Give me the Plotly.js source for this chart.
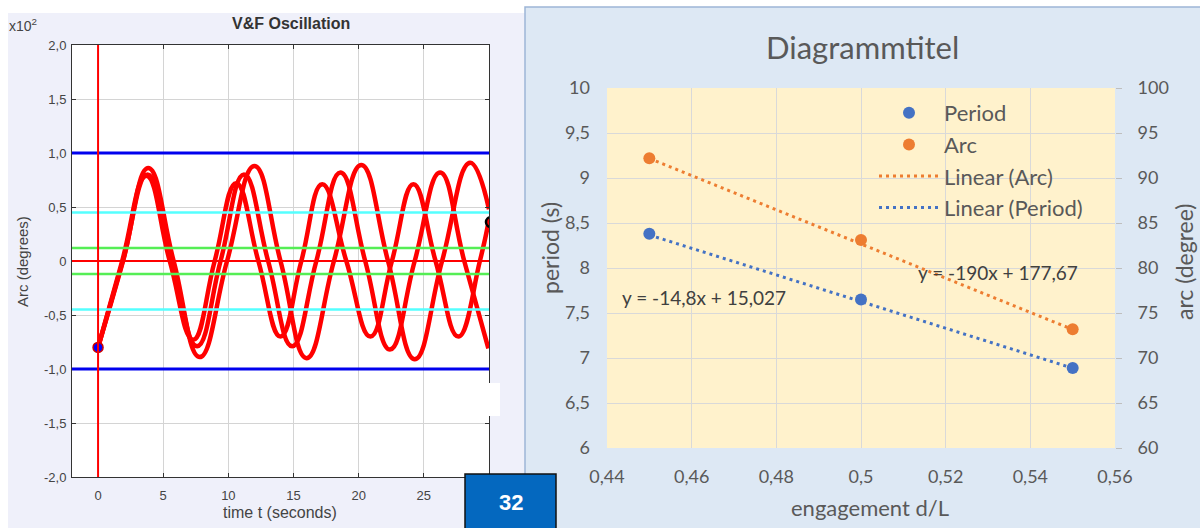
<!DOCTYPE html>
<html>
<head>
<meta charset="utf-8">
<script src="https://cdn.plot.ly/plotly-3.0.1.min.js"></script>
<style>html,body{margin:0;padding:0;background:#fff;}#chart{width:1200px;height:528px;}</style>
</head>
<body>
<div id="chart"></div>
<script>
// ---------- Left chart data (V&F Oscillation) ----------
const curve1T = [0, 1.85, 3.7, 5.5, 7.3, 8.95, 10.6, 12.3, 14.0, 15.6, 17.2, 19.05, 20.9, 22.55, 24.2, 25.9, 27.65, 29.3, 30];
const curve1Y = [-0.8, 0, 0.79, 0, -0.73, 0, 0.72, 0, -0.70, 0, 0.71, 0, -0.70, 0, 0.71, 0, -0.70, 0, 0.38];
const curve2T = [0, 1.9, 3.8, 5.7, 7.6, 9.4, 11.2, 13.05, 14.9, 16.75, 18.6, 20.5, 22.4, 24.3, 26.25, 28.1, 29.95];
const curve2Y = [-0.8, 0, 0.80, 0, -0.79, 0, 0.80, 0, -0.79, 0, 0.82, 0, -0.82, 0, 0.82, 0, -0.81];
const curve3T = [0, 1.92, 3.85, 5.8, 7.8, 9.9, 12.0, 14.0, 16.0, 18.1, 20.2, 22.25, 24.3, 26.4, 28.55, 30];
const curve3Y = [-0.8, 0, 0.86, 0, -0.89, 0, 0.88, 0, -0.90, 0, 0.89, 0, -0.91, 0, 0.91, 0.48];
const startPoint = {t: [0], y: [-0.8]};
const endPoint = {t: [30.15], y: [0.36]};
const blueLevels = [1.0, -1.0];
const cyanLevels = [0.45, -0.45];
const greenLevels = [0.12, -0.12];
const redLevels = [0];
const redTimes = [0];
const leftXTicks = [0, 5, 10, 15, 20, 25, 30];
const leftYTicks = [-2, -1.5, -1, -0.5, 0, 0.5, 1, 1.5, 2];
const leftYText = ['-2,0', '-1,5', '-1,0', '-0,5', '0', '0,5', '1,0', '1,5', '2,0'];

// ---------- Right chart data (Diagrammtitel) ----------
const engagement = [0.45, 0.5, 0.55];
const period = [8.38, 7.65, 6.89];
const arc = [92.2, 83.1, 73.2];
const trendX = [0.45, 0.55];
const periodTrend = [8.367, 6.887];
const arcTrend = [92.17, 73.17];

// ---------- helpers (pixel -> paper) ----------
const W = 1200, H = 528;
const fx = p => p / W;
const fy = p => 1 - p / H;

const redLine = {color: '#ff0000', width: 4.5, shape: 'spline', smoothing: 1.3};
const traces = [
  {x: curve1T, y: curve1Y, xaxis: 'x', yaxis: 'y', mode: 'lines', line: redLine, showlegend: false, hoverinfo: 'skip'},
  {x: curve2T, y: curve2Y, xaxis: 'x', yaxis: 'y', mode: 'lines', line: redLine, showlegend: false, hoverinfo: 'skip'},
  {x: curve3T, y: curve3Y, xaxis: 'x', yaxis: 'y', mode: 'lines', line: redLine, showlegend: false, hoverinfo: 'skip'},
  {x: startPoint.t, y: startPoint.y, xaxis: 'x', yaxis: 'y', mode: 'markers',
   marker: {color: '#0000ff', size: 10, line: {color: '#cc0000', width: 1.5}}, showlegend: false},
  {x: endPoint.t, y: endPoint.y, xaxis: 'x', yaxis: 'y', mode: 'markers', cliponaxis: true,
   marker: {color: '#ff0000', size: 10, line: {color: '#000', width: 2.5}}, showlegend: false},

  {x: trendX, y: periodTrend, xaxis: 'x2', yaxis: 'y2', mode: 'lines', name: 'Linear (Period)',
   legendgroup: 'd', legendrank: 4, line: {color: '#4472c4', width: 3, dash: '3px,4px'}},
  {x: engagement, y: period, xaxis: 'x2', yaxis: 'y2', mode: 'markers', name: 'Period',
   legendgroup: 'a', legendrank: 1, marker: {color: '#4472c4', size: 12}},
  {x: trendX, y: arcTrend, xaxis: 'x2', yaxis: 'y3', mode: 'lines', name: 'Linear (Arc)',
   legendgroup: 'c', legendrank: 3, line: {color: '#ed7d31', width: 3, dash: '3px,4px'}},
  {x: engagement, y: arc, xaxis: 'x2', yaxis: 'y3', mode: 'markers', name: 'Arc',
   legendgroup: 'b', legendrank: 2, marker: {color: '#ed7d31', size: 12}}
];

const shapes = [];
// panel backgrounds
shapes.push({type: 'rect', xref: 'paper', yref: 'paper', layer: 'below',
  x0: fx(8), x1: fx(525), y0: 0, y1: fy(13), fillcolor: '#eff0fa', line: {width: 0}});
shapes.push({type: 'rect', xref: 'paper', yref: 'paper', layer: 'below',
  x0: fx(525), x1: fx(1201), y0: -0.01, y1: fy(7), fillcolor: '#dde8f4', line: {color: '#9db5d6', width: 1.5}});
shapes.push({type: 'rect', xref: 'x domain', yref: 'y domain', layer: 'below',
  x0: 0, x1: 1, y0: 0, y1: 1, fillcolor: '#ffffff', line: {width: 0}});
shapes.push({type: 'rect', xref: 'x2 domain', yref: 'y2 domain', layer: 'below',
  x0: 0, x1: 1, y0: 0, y1: 1, fillcolor: '#fff2cc', line: {width: 0}});
// reference lines on left chart
function hLines(levels, color, width) {
  levels.forEach(v => shapes.push({type: 'line', xref: 'x domain', yref: 'y', x0: 0, x1: 1, y0: v, y1: v,
    line: {color: color, width: width}, layer: 'above'}));
}
hLines(blueLevels, '#0000ee', 3);
hLines(cyanLevels, '#55ffff', 2.5);
hLines(greenLevels, '#55ee55', 2.5);
hLines(redLevels, '#ff0000', 2);
redTimes.forEach(t => shapes.push({type: 'line', xref: 'x', yref: 'y domain', x0: t, x1: t, y0: 0, y1: 1,
  line: {color: '#ff0000', width: 2}, layer: 'above'}));
// white patch and page-number box
shapes.push({type: 'rect', xref: 'paper', yref: 'paper', x0: fx(485), x1: fx(500), y0: fy(416), y1: fy(383),
  fillcolor: '#ffffff', line: {width: 0}, layer: 'above'});
shapes.push({type: 'rect', xref: 'paper', yref: 'paper', x0: fx(465), x1: fx(556), y0: fy(529), y1: fy(474),
  fillcolor: '#0468bf', line: {color: '#111', width: 1.5}, layer: 'above'});

const matFont = {family: 'Liberation Sans, Arial, sans-serif', size: 13, color: '#444'};
const xlFont = {family: 'Lato, sans-serif', size: 18, color: '#595959'};

function ann(text, x, y, font, extra) {
  return Object.assign({text: text, x: fx(x), y: fy(y), xref: 'paper', yref: 'paper', showarrow: false,
    xanchor: 'center', yanchor: 'middle', font: font}, extra || {});
}
const annotations = [
  ann('<b>V&F Oscillation</b>', 291, 23, {family: 'Liberation Sans, Arial, sans-serif', size: 16, color: '#333'}),
  ann('x10<sup>2</sup>', 23, 25, {family: 'Liberation Sans, Arial, sans-serif', size: 14, color: '#444'}),
  ann('Arc (degrees)', 22, 262, {family: 'Liberation Sans, Arial, sans-serif', size: 15, color: '#444'}, {textangle: -90}),
  ann('time t (seconds)', 280, 512, {family: 'Liberation Sans, Arial, sans-serif', size: 16, color: '#444'}),
  ann('<b>32</b>', 511, 502, {family: 'Liberation Sans, Arial, sans-serif', size: 22, color: '#ffffff'}),

  ann('Diagrammtitel', 862, 47, {family: 'Lato, sans-serif', size: 31, color: '#595959'}),
  ann('period (s)', 550, 248, {family: 'Lato, sans-serif', size: 23, color: '#595959'}, {textangle: -90}),
  ann('arc (degree)', 1184, 262, {family: 'Lato, sans-serif', size: 23, color: '#595959'}, {textangle: -90}),
  ann('engagement d/L', 870, 507, {family: 'Lato, sans-serif', size: 22, color: '#595959'}),
  ann('y = -14,8x + 15,027', 704, 297, {family: 'Lato, sans-serif', size: 19, color: '#404040'}),
  ann('y = -190x + 177,67', 998, 272, {family: 'Lato, sans-serif', size: 19, color: '#404040'})
];

const layout = {
  width: W, height: H, margin: {l: 0, r: 0, t: 0, b: 0},
  paper_bgcolor: '#ffffff', plot_bgcolor: 'rgba(0,0,0,0)', separators: ',.',
  showlegend: true,
  legend: {x: fx(874), y: fy(92), xanchor: 'left', yanchor: 'top', bgcolor: 'rgba(0,0,0,0)',
    font: {family: 'Lato, sans-serif', size: 22, color: '#595959'}, traceorder: 'grouped',
    tracegroupgap: 0, itemwidth: 60},
  xaxis: {domain: [fx(72), fx(489)], range: [-2, 30], anchor: 'y', tickvals: leftXTicks,
    ticks: 'inside', ticklen: 4, tickcolor: '#333', showline: true, mirror: 'ticks', linecolor: '#333', linewidth: 1,
    gridcolor: '#d4d4d4', zeroline: false, tickfont: matFont, ticklabelstandoff: 6},
  yaxis: {domain: [fy(477), fy(45)], range: [-2, 2], anchor: 'x', tickvals: leftYTicks, ticktext: leftYText,
    ticks: 'inside', ticklen: 4, tickcolor: '#333', showline: true, mirror: 'ticks', linecolor: '#333', linewidth: 1,
    gridcolor: '#d4d4d4', zeroline: false, tickfont: matFont, ticklabelstandoff: 2},
  xaxis2: {domain: [fx(607), fx(1115)], range: [0.44, 0.56], dtick: 0.02, tick0: 0.44, anchor: 'y2',
    gridcolor: '#d9d9d9', showline: false, zeroline: false, ticks: '', tickfont: xlFont, ticklabelstandoff: 16},
  yaxis2: {domain: [fy(448), fy(88)], range: [6, 10], dtick: 0.5, anchor: 'x2',
    gridcolor: '#d9d9d9', showline: false, zeroline: false, ticks: '', tickfont: xlFont, ticklabelstandoff: 16},
  yaxis3: {overlaying: 'y2', side: 'right', anchor: 'x2', range: [60, 100], dtick: 5, showgrid: false,
    zeroline: false, showline: false, ticks: 'outside', ticklen: 6, tickcolor: '#bfbfbf', tickfont: xlFont,
    ticklabelstandoff: 12},
  shapes: shapes,
  annotations: annotations
};

Plotly.newPlot('chart', traces, layout, {staticPlot: true});
</script>
</body>
</html>
